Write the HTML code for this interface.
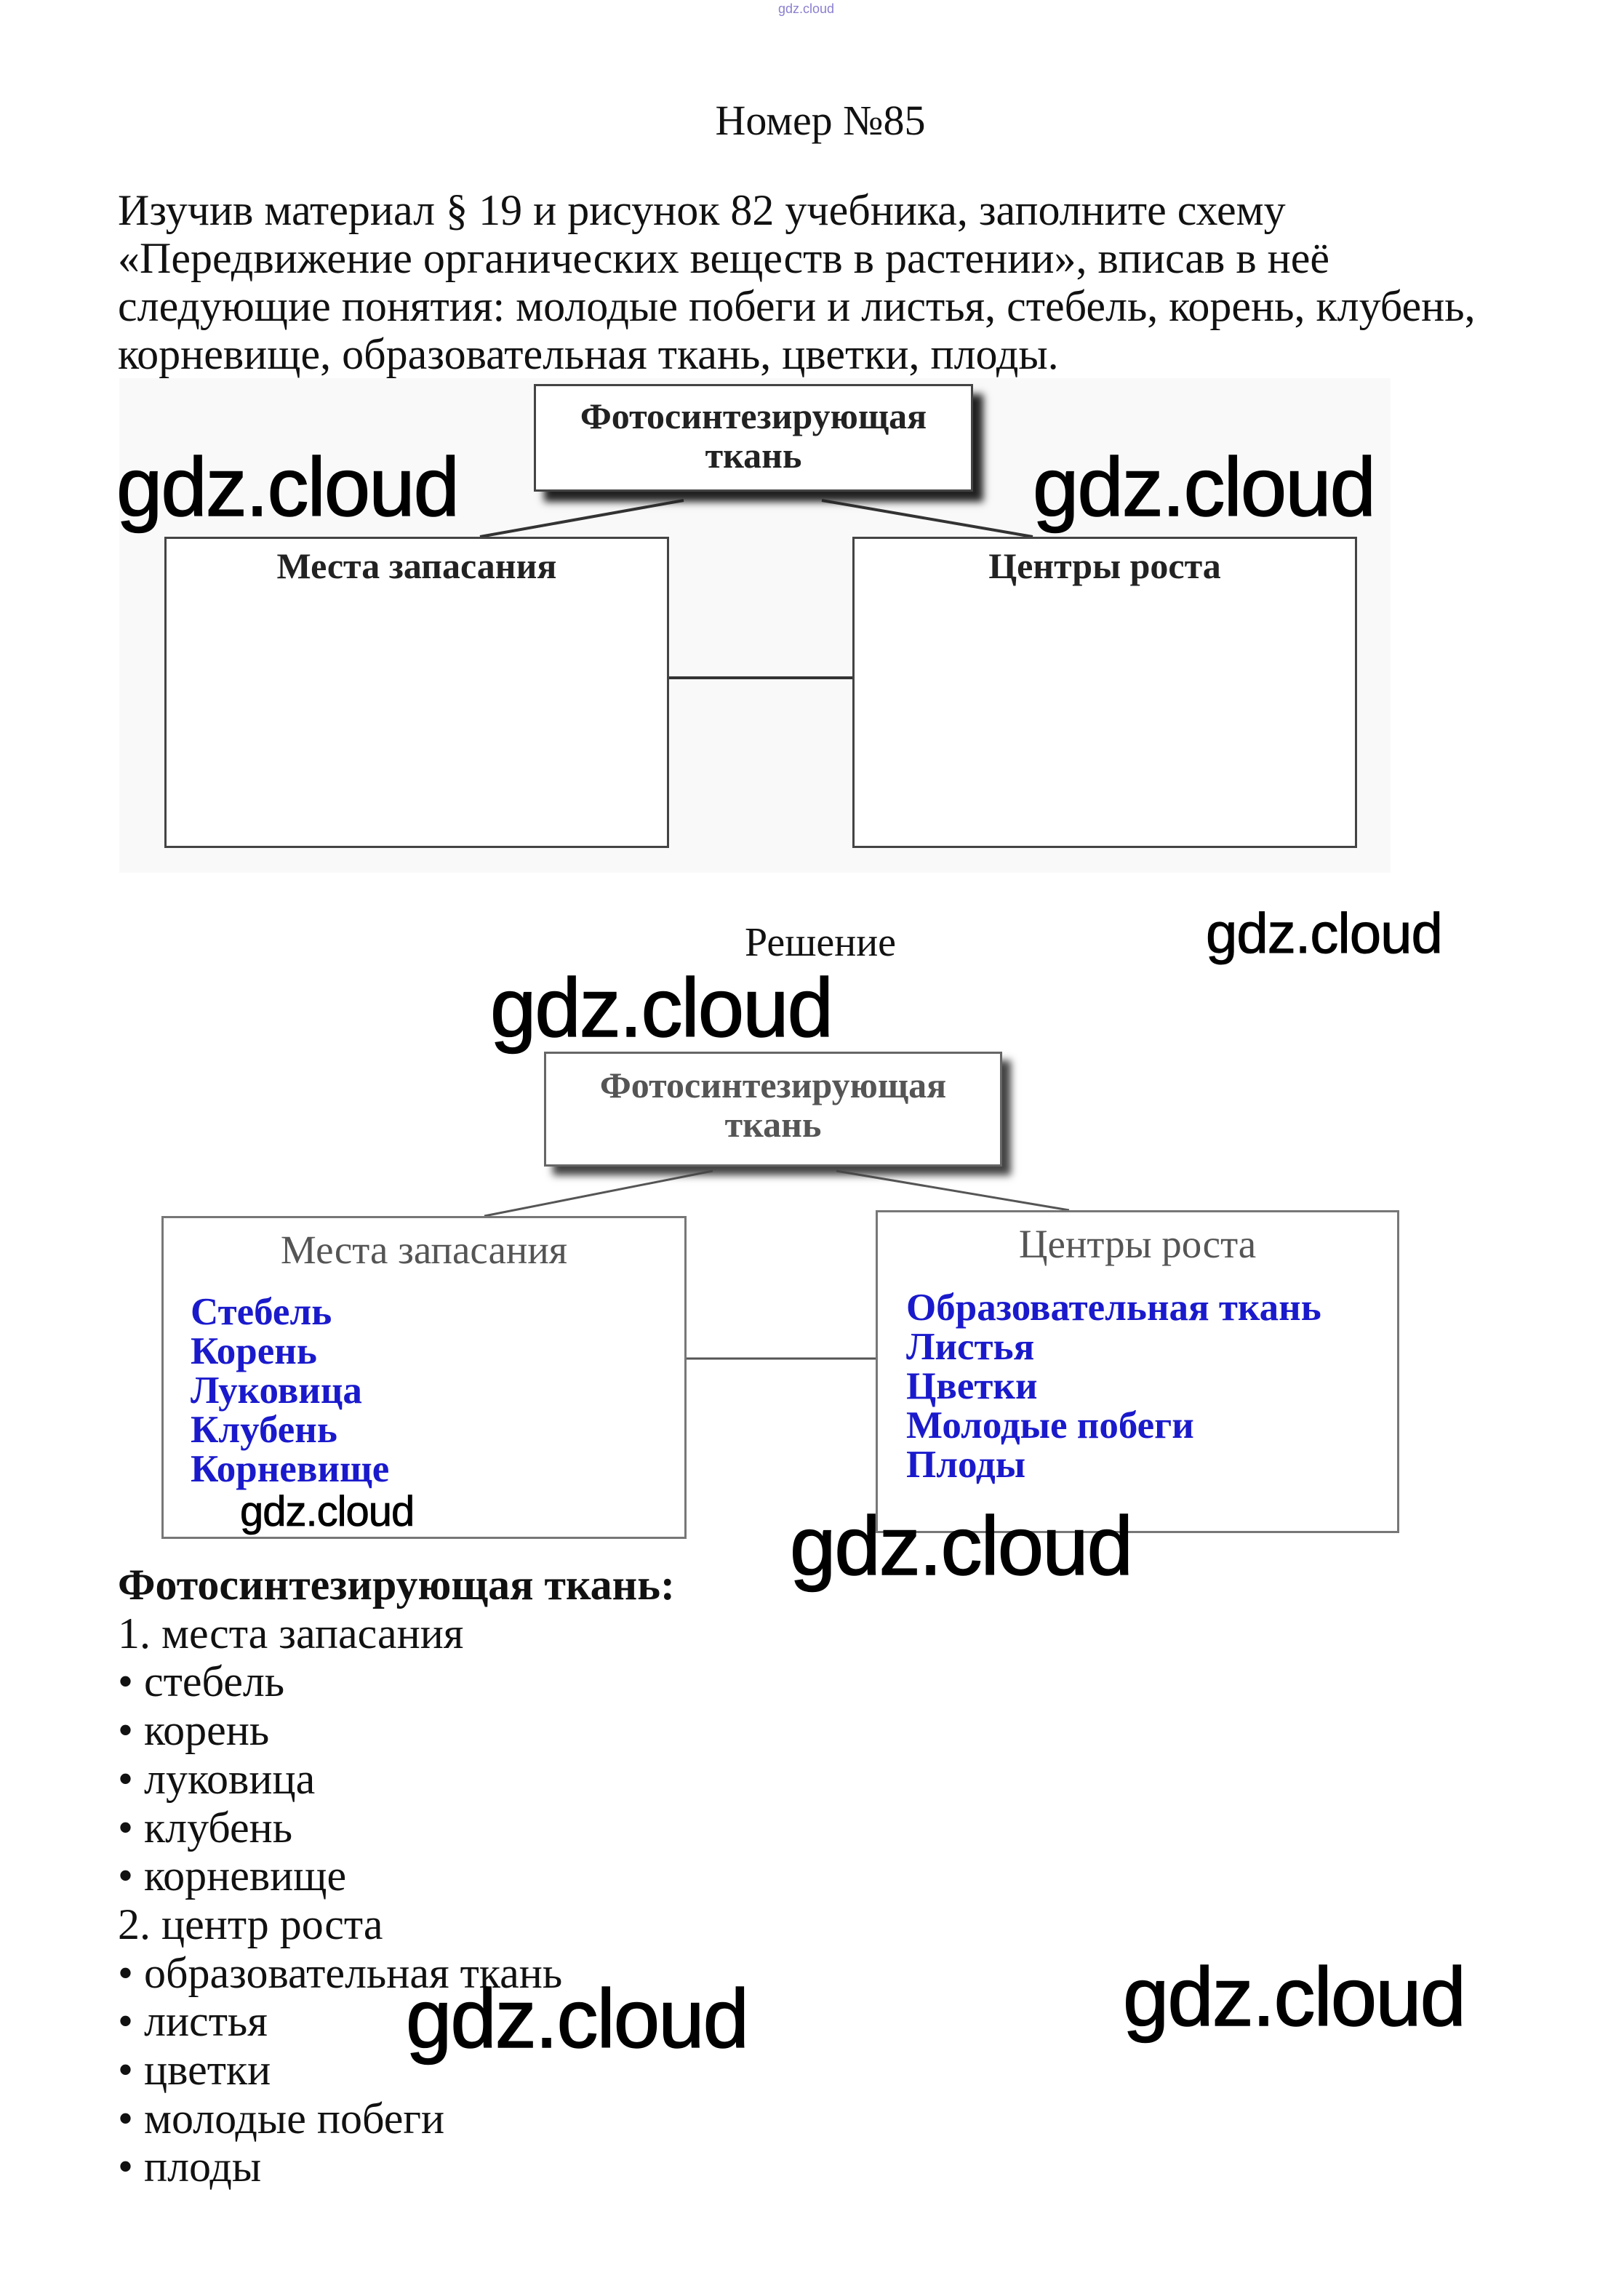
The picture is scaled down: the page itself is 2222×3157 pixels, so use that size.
<!DOCTYPE html>
<html><head><meta charset="utf-8">
<style>
html,body{margin:0;padding:0;background:#fff;}
body{width:2222px;height:3157px;position:relative;overflow:hidden;font-family:"Liberation Serif",serif;color:#111;}
.a{position:absolute;white-space:nowrap;}
.wm{position:absolute;font-family:"Liberation Sans","DejaVu Sans",sans-serif;color:#000;font-size:114px;line-height:1;letter-spacing:-2px;white-space:nowrap;-webkit-text-stroke:1.5px #000;}
.box{position:absolute;border:3px solid #444;background:#fff;box-sizing:border-box;}
.dt{font-family:"Liberation Serif",serif;font-weight:bold;color:#333;font-size:50px;text-align:center;position:absolute;left:0;right:0;}
.bl{position:absolute;font-family:"Liberation Serif",serif;font-weight:bold;color:#1a1acc;font-size:53px;line-height:54px;white-space:nowrap;}
.para{position:absolute;left:162px;top:256px;font-size:60px;line-height:66px;white-space:nowrap;}
.list{position:absolute;left:162px;top:2146px;font-size:60px;line-height:66.7px;white-space:nowrap;}
</style></head><body>
<div class="a" style="left:1070px;top:2px;font-size:18px;color:#8a7fd0;font-family:'Liberation Sans',sans-serif;">gdz.cloud</div>
<div class="a" style="left:0;width:2256px;text-align:center;top:132px;font-size:58px;">Номер №85</div>
<div class="para">Изучив материал § 19 и рисунок 82 учебника, заполните схему<br>«Передвижение органических веществ в растении», вписав в неё<br>следующие понятия: молодые побеги и листья, стебель, корень, клубень,<br>корневище, образовательная ткань, цветки, плоды.</div>

<div style="position:absolute;left:164px;top:520px;width:1748px;height:680px;background:#f9f9f9;"></div>
<svg style="position:absolute;left:0;top:0" width="2222" height="3157">
<line x1="940" y1="688" x2="660" y2="738" stroke="#333" stroke-width="4"/>
<line x1="1130" y1="688" x2="1420" y2="738" stroke="#333" stroke-width="4"/>
<line x1="920" y1="932" x2="1172" y2="932" stroke="#333" stroke-width="4"/>
<line x1="980" y1="1610" x2="666" y2="1672" stroke="#555" stroke-width="3"/>
<line x1="1150" y1="1610" x2="1470" y2="1664" stroke="#555" stroke-width="3"/>
<line x1="944" y1="1868" x2="1204" y2="1868" stroke="#555" stroke-width="3"/>
</svg>
<div class="box" style="left:734px;top:528px;width:604px;height:148px;box-shadow:14px 14px 10px #222;">
<div class="dt" style="top:14px;line-height:54px;color:#222;">Фотосинтезирующая<br>ткань</div></div>
<div class="box" style="left:226px;top:738px;width:694px;height:428px;"><div class="dt" style="top:8px;color:#222;">Места запасания</div></div>
<div class="box" style="left:1172px;top:738px;width:694px;height:428px;"><div class="dt" style="top:8px;color:#222;">Центры роста</div></div>

<div class="wm" style="left:160px;top:614px;">gdz.cloud</div>
<div class="wm" style="left:1420px;top:614px;">gdz.cloud</div>

<div class="a" style="left:0;width:2256px;text-align:center;top:1264px;font-size:56px;">Решение</div>
<div class="wm" style="left:1658px;top:1244px;font-size:78px;letter-spacing:-1px;-webkit-text-stroke:1px #000;">gdz.cloud</div>
<div class="wm" style="left:674px;top:1330px;">gdz.cloud</div>

<div class="box" style="left:748px;top:1446px;width:630px;height:158px;border-color:#666;box-shadow:12px 12px 10px #444;">
<div class="dt" style="top:16px;line-height:54px;color:#555;">Фотосинтезирующая<br>ткань</div></div>
<div class="box" style="left:222px;top:1672px;width:722px;height:444px;border-color:#777;"><div class="dt" style="top:12px;color:#555;font-weight:normal;font-size:55px;">Места запасания</div></div>
<div class="box" style="left:1204px;top:1664px;width:720px;height:444px;border-color:#777;"><div class="dt" style="top:12px;color:#555;font-weight:normal;font-size:55px;">Центры роста</div></div>
<div class="bl" style="left:262px;top:1777px;">Стебель<br>Корень<br>Луковица<br>Клубень<br>Корневище</div>
<div class="bl" style="left:1246px;top:1771px;">Образовательная ткань<br>Листья<br>Цветки<br>Молодые побеги<br>Плоды</div>
<div class="wm" style="left:330px;top:2050px;font-size:58px;letter-spacing:-1px;-webkit-text-stroke:0.8px #000;">gdz.cloud</div>
<div class="wm" style="left:1086px;top:2070px;">gdz.cloud</div>

<div class="list"><b>Фотосинтезирующая ткань:</b><br>1. места запасания<br>• стебель<br>• корень<br>• луковица<br>• клубень<br>• корневище<br>2. центр роста<br>• образовательная ткань<br>• листья<br>• цветки<br>• молодые побеги<br>• плоды</div>
<div class="wm" style="left:558px;top:2720px;">gdz.cloud</div>
<div class="wm" style="left:1544px;top:2690px;">gdz.cloud</div>
</body></html>
